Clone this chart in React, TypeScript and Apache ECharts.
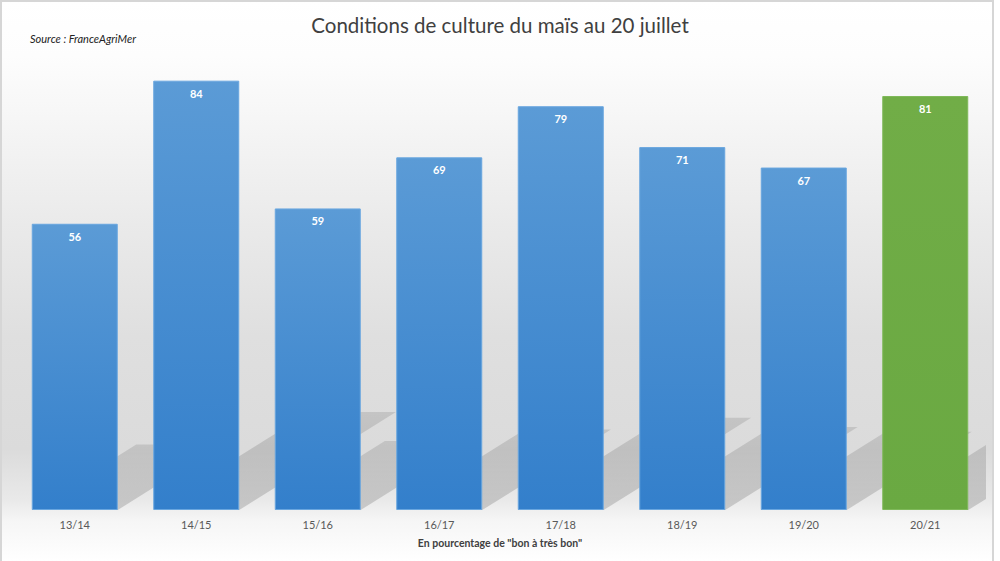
import React, { useEffect, useRef } from "react";
import * as echarts from "echarts";

const categories = ["13/14", "14/15", "15/16", "16/17", "17/18", "18/19", "19/20", "20/21"];
const values = [56, 84, 59, 69, 79, 71, 67, 81];
const highlightIndex = 7;
const titleText = "Conditions de culture du maïs au 20 juillet";
const sourceText = "Source : FranceAgriMer";
const axisNameText = 'En pourcentage de "bon à très bon"';

export default function App() {
  const ref = useRef<HTMLDivElement>(null);
  useEffect(() => {
    if (!ref.current) return;
    const chart = echarts.init(ref.current, null, { renderer: "svg" });
    const BAR_W = 86;
    const blue = new echarts.graphic.LinearGradient(0, 0, 0, 1, [
      { offset: 0, color: "#5b9bd6" },
      { offset: 1, color: "#337fcb" },
    ]);
    const green = new echarts.graphic.LinearGradient(0, 0, 0, 1, [
      { offset: 0, color: "#71ad47" },
      { offset: 1, color: "#6aa942" },
    ]);
    const option: any = {
      animation: false,
      backgroundColor: "#ffffff",
      title: {
        text: titleText,
        left: "center",
        top: 9,
        textStyle: { fontFamily: "Lato", fontWeight: "normal", fontSize: 20.5, color: "#404040" },
      },
      graphic: [
        {
          type: "rect",
          z: -100,
          silent: true,
          shape: { x: 0, y: 0, width: 994, height: 561 },
          style: {
            fill: new echarts.graphic.LinearGradient(0, 0, 0, 1, [
              { offset: 0, color: "#ffffff" },
              { offset: 0.1, color: "#fdfdfd" },
              { offset: 0.4, color: "#eaeaea" },
              { offset: 0.6, color: "#dfdfdf" },
              { offset: 0.8, color: "#dbdbdb" },
              { offset: 0.89, color: "#e9e9e9" },
              { offset: 0.93, color: "#f6f6f6" },
              { offset: 1, color: "#ffffff" },
            ]),
          },
        },
        {
          type: "rect",
          z: 100,
          silent: true,
          shape: { x: 1, y: 1, width: 992, height: 562 },
          style: { fill: "none", stroke: "#d6d6d6", lineWidth: 2 },
        },
        {
          type: "text",
          left: 30,
          top: 33,
          style: {
            text: sourceText,
            fontFamily: "Lato",
            fontStyle: "italic",
            fontSize: 11,
            fill: "#222222",
          },
        },
      ],
      grid: { left: 14, right: 14, top: 50, bottom: 51 },
      xAxis: {
        type: "category",
        data: categories,
        axisLine: { show: false },
        axisTick: { show: false },
        axisLabel: { color: "#595959", fontSize: 11, fontFamily: "Lato", margin: 9 },
        name: axisNameText,
        nameLocation: "middle",
        nameGap: 27,
        nameTextStyle: { color: "#404040", fontSize: 10.5, fontFamily: "Lato", fontWeight: "bold" },
      },
      yAxis: { type: "value", min: 0, max: 90, show: false, splitLine: { show: false } },
      series: [
        {
          type: "custom",
          clip: true,
          z: 1,
          silent: true,
          encode: { x: 0, y: 1 },
          data: values.map((v, i) => [i, v]),
          renderItem: (params: any, api: any) => {
            const i = api.value(0);
            const v = api.value(1);
            const base = api.coord([i, 0]);
            const top = api.coord([i, v]);
            const h = base[1] - top[1];
            const d = h * 0.365;
            const dx = d;
            const dy = -0.626 * d;
            const xL = base[0] - BAR_W / 2;
            const xR = base[0] + BAR_W / 2;
            const y0 = base[1];
            return {
              type: "polygon",
              shape: {
                points: [
                  [xL, y0],
                  [xR, y0],
                  [xR + dx, y0 + dy],
                  [xL + dx, y0 + dy],
                ],
              },
              style: {
                fill: new echarts.graphic.LinearGradient(0, 1, 0, 0, [
                  { offset: 0, color: "rgba(0,0,0,0.16)" },
                  { offset: 1, color: "rgba(0,0,0,0.11)" },
                ]),
              },
            };
          },
        },
        {
          type: "bar",
          z: 3,
          barWidth: BAR_W,
          data: values.map((v, i) => ({
            value: v,
            itemStyle: {
              color: i === highlightIndex ? green : blue,
              borderColor: i === highlightIndex ? "#7fb95a" : "#69a6df",
              borderWidth: 1,
            },
          })),
          label: {
            show: true,
            position: "insideTop",
            distance: 7,
            color: "#ffffff",
            fontSize: 11,
            fontWeight: "bold",
            fontFamily: "Lato",
          },
        },
      ],
    };
    chart.setOption(option);
    return () => chart.dispose();
  }, []);
  return (
    <div
      ref={ref}
      style={{ position: "fixed", left: 0, top: 0, width: 1000, height: 561 }}
    />
  );
}
